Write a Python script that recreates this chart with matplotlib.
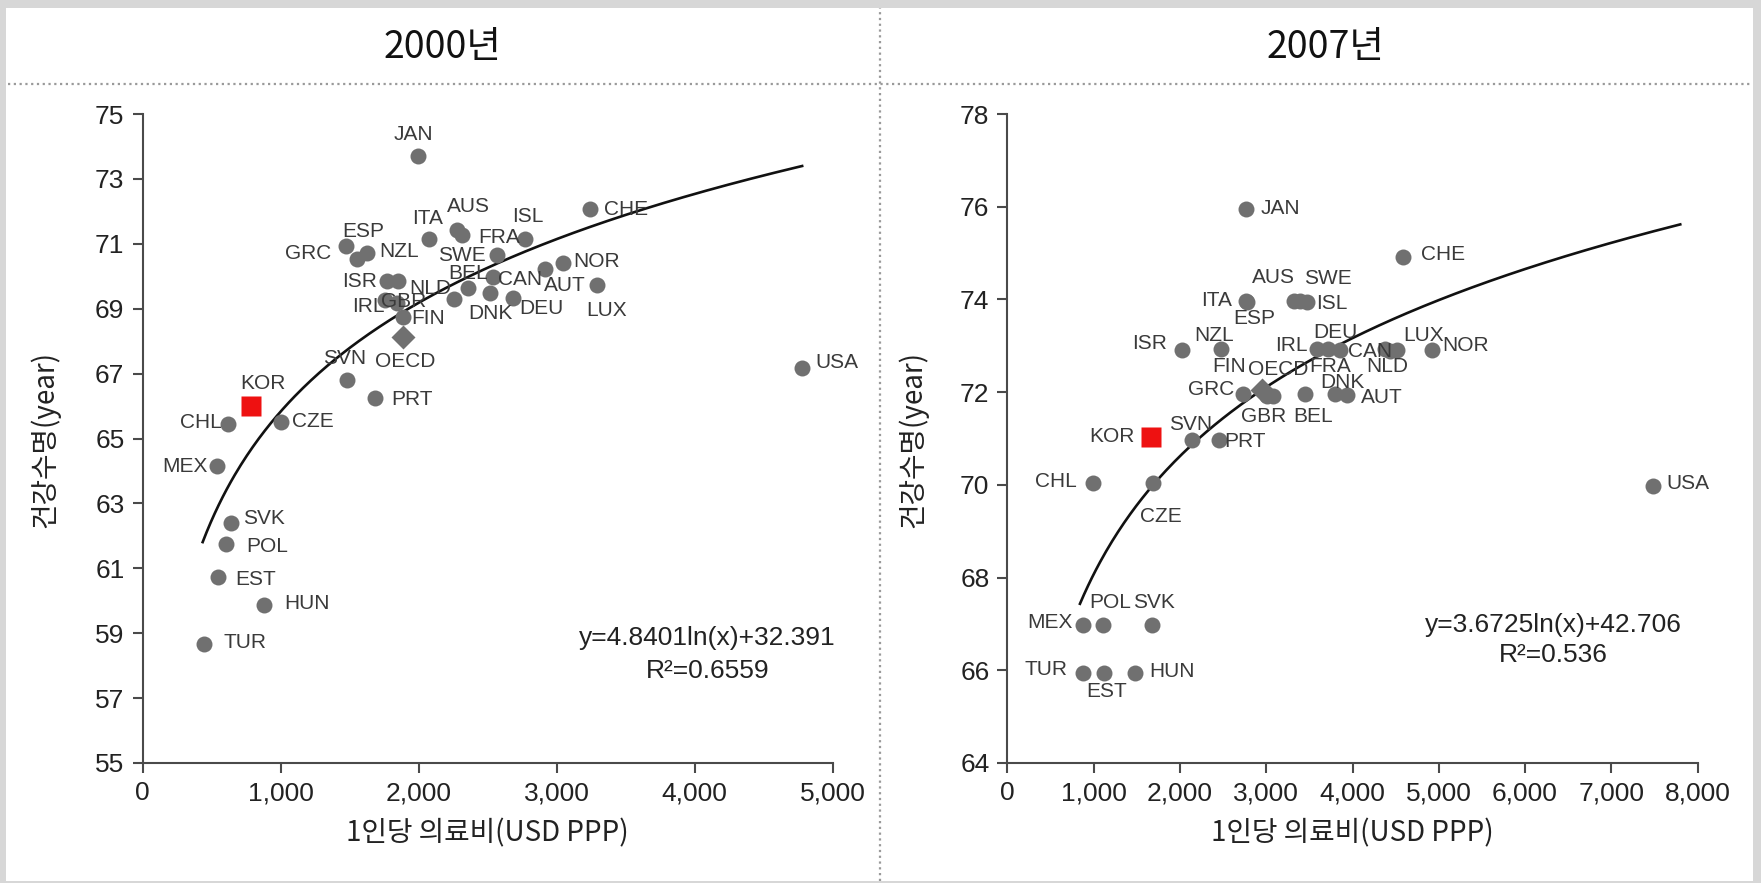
import numpy as np
import matplotlib.pyplot as plt
from matplotlib.patches import Rectangle
from matplotlib.lines import Line2D
from matplotlib.ticker import FuncFormatter

plt.rcParams['font.family'] = ['Liberation Sans', 'DejaVu Sans']
KR = ['Noto Sans CJK KR', 'DejaVu Sans']

# 2000: health spending per capita (USD PPP) vs healthy life expectancy
countries_2000 = ['JAN', 'CHE', 'ISL', 'AUS', 'SWE', 'ITA', 'GRC', 'ESP', 'NZL', 'FRA',
                  'BEL', 'CAN', 'NOR', 'AUT', 'LUX', 'NLD', 'DNK', 'DEU', 'ISR', '',
                  'IRL', 'GBR', 'FIN', 'OECD', 'SVN', 'PRT', 'KOR', 'CHL', 'CZE', 'MEX',
                  'SVK', 'POL', 'EST', 'HUN', 'TUR', 'USA']
spend_2000 = [1999, 3243, 2772, 2277, 2313, 2078, 1475, 1629, 1552, 2567,
              2361, 2538, 3049, 2917, 3291, 2257, 2518, 2687, 1770, 1854,
              1757, 1842, 1890, 1890, 1480, 1685, 784, 622, 1002, 538,
              639, 605, 549, 880, 448, 4779]
hale_2000 = [73.71, 72.06, 71.14, 71.43, 71.27, 71.14, 70.93, 70.73, 70.52, 70.65,
             69.63, 69.99, 70.42, 70.21, 69.73, 69.29, 69.47, 69.34, 69.85, 69.85,
             69.27, 69.17, 68.75, 68.14, 66.80, 66.24, 66.00, 65.45, 65.52, 64.15,
             62.39, 61.74, 60.74, 59.87, 58.67, 67.16]

# 2007
countries_2007 = ['JAN', 'CHE', 'ITA', 'ESP', 'AUS', 'SWE', 'ISL', 'ISR', 'NZL', 'IRL',
                  'DEU', 'FRA', 'CAN', 'NLD', 'LUX', 'NOR', 'GRC', 'OECD', 'FIN', 'GBR',
                  'BEL', 'DNK', 'AUT', 'SVN', 'PRT', 'KOR', 'CHL', 'CZE', 'MEX', 'POL',
                  'SVK', 'TUR', 'EST', 'HUN', 'USA']
spend_2007 = [2765, 4589, 2765, 2780, 3316, 3397, 3467, 2020, 2472, 3585,
              3719, 3855, 4377, 4435, 4512, 4918, 2734, 2947, 3005, 3082,
              3449, 3797, 3933, 2136, 2456, 1660, 995, 1691, 879, 1104,
              1672, 879, 1119, 1478, 7486]
hale_2007 = [75.94, 74.92, 73.97, 73.95, 73.97, 73.96, 73.94, 72.91, 72.93, 72.93,
             72.93, 72.91, 72.92, 72.88, 72.91, 72.91, 71.96, 72.05, 71.92, 71.92,
             71.96, 71.96, 71.94, 70.97, 70.97, 71.04, 70.03, 70.03, 66.98, 66.98,
             66.98, 65.95, 65.95, 65.95, 69.97]

# logarithmic trend lines: slope, intercept, R^2
fit_2000 = (4.8401, 32.391, 0.6559)
fit_2007 = (3.6725, 42.706, 0.536)

# label placement, pixel offsets from the marker
offsets_2000 = {
    'JAN': (-5, 21), 'CHE': (36, 0), 'ISL': (3, 23), 'AUS': (12, 23), 'SWE': (0, -20),
    'ITA': (-2, 21), 'GRC': (-38, -7), 'ESP': (-4, 21), 'NZL': (42, 8), 'FRA': (2, 18),
    'BEL': (0, 15), 'CAN': (27, -3), 'NOR': (33, 1), 'AUT': (20, -16), 'LUX': (10, -25),
    'NLD': (-24, 11), 'DNK': (0, -20), 'DEU': (28, -11), 'ISR': (-27, 0), 'IRL': (-17, -7),
    'GBR': (7, 2), 'FIN': (25, -2), 'OECD': (2, -25), 'SVN': (-2, 22), 'PRT': (37, -1),
    'KOR': (12, 23), 'CHL': (-27, 1), 'CZE': (32, 0), 'MEX': (-32, 0), 'SVK': (33, 5),
    'POL': (41, -2), 'EST': (37, -3), 'HUN': (43, 1), 'TUR': (41, 1), 'USA': (35, 6),
}
offsets_2007 = {
    'JAN': (34, 1), 'CHE': (40, 2), 'ITA': (-29, 0), 'ESP': (7, -17), 'AUS': (-20, 23),
    'SWE': (27, 23), 'ISL': (25, -1), 'ISR': (-32, 6), 'NZL': (-7, 14), 'IRL': (-25, 4),
    'DEU': (7, 17), 'FRA': (-10, -17), 'CAN': (-15, -2), 'NLD': (-3, -15), 'LUX': (27, 14),
    'NOR': (34, 4), 'GRC': (-32, 4), 'OECD': (17, 20), 'FIN': (-38, 29), 'GBR': (-10, -21),
    'BEL': (8, -23), 'DNK': (7, 11), 'AUT': (35, -3), 'SVN': (-1, 15), 'PRT': (26, -2),
    'KOR': (-39, 0), 'CHL': (-37, 2), 'CZE': (8, -33), 'MEX': (-33, 2), 'POL': (7, 22),
    'SVK': (2, 22), 'TUR': (-37, 3), 'EST': (3, -19), 'HUN': (37, 1), 'USA': (35, 3),
}

W, H = 1761, 883
fig = plt.figure(figsize=(W / 100, H / 100), dpi=100, facecolor='#d7d7d7')
fig.patches.append(Rectangle((6 / W, 2 / H), (1753 - 6) / W, (875 - 2) / H,
                             transform=fig.transFigure, facecolor='white',
                             edgecolor='none', zorder=-5))
dot = dict(color='#9a9a9a', lw=1.6, linestyle=(0, (1, 1.6)), transform=fig.transFigure, zorder=-4)
fig.lines.append(Line2D([8 / W, 1752 / W], [1 - 84 / H, 1 - 84 / H], **dot))
fig.lines.append(Line2D([879.5 / W, 879.5 / W], [2 / H, 875 / H], **dot))

fig.text(442 / W, 1 - 48 / H, '2000년', fontsize=27, family=KR, ha='center', va='center', color='#111')
fig.text(1325 / W, 1 - 48 / H, '2007년', fontsize=27, family=KR, ha='center', va='center', color='#111')

grey = '#707070'


def draw_panel(ax, names, xs, ys, offsets, fit, xmax, ylim, yticks, xticks, curve_x, eq_pos):
    for name, x, y in zip(names, xs, ys):
        if name == 'KOR':
            ax.plot(x, y, 's', ms=15, mfc='#ee1111', mec='none', zorder=4, clip_on=False)
        elif name == 'OECD':
            ax.plot(x, y, 'D', ms=12, mfc=grey, mec='none', zorder=3, clip_on=False)
        else:
            ax.plot(x, y, 'o', ms=11.5, mfc=grey, mec='none', zorder=3, clip_on=False)
        if name:
            dx, dy = offsets[name]
            ax.annotate(name, (x, y), xytext=(dx, dy), textcoords='offset pixels',
                        ha='center', va='center', fontsize=15, color='#3a3a3a', zorder=5)

    a, b, r2 = fit
    cx = np.linspace(curve_x[0], curve_x[1], 300)
    ax.plot(cx, a * np.log(cx) + b, color='#111', lw=1.9, zorder=2)
    ax.text(eq_pos[0], eq_pos[1], f'y={a}ln(x)+{b}', transform=ax.transAxes,
            ha='center', va='center', fontsize=19, color='#222')
    ax.text(eq_pos[0], eq_pos[2], f'R²={r2}', transform=ax.transAxes,
            ha='center', va='center', fontsize=19, color='#222')

    ax.set_xlim(0, xmax)
    ax.set_ylim(*ylim)
    ax.set_xticks(xticks)
    ax.set_yticks(yticks)
    ax.xaxis.set_major_formatter(FuncFormatter(lambda v, p: f'{int(v):,}'))
    for side in ('top', 'right'):
        ax.spines[side].set_visible(False)
    for side in ('left', 'bottom'):
        ax.spines[side].set_color('#4a4a4a')
        ax.spines[side].set_linewidth(1.5)
    ax.tick_params(direction='out', length=7, width=1.5, color='#4a4a4a',
                   labelsize=19, labelcolor='#222', pad=6)
    ax.set_xlabel('1인당 의료비(USD PPP)', family=KR, fontsize=20, color='#222')
    ax.set_ylabel('건강수명(year)', family=KR, fontsize=20, color='#222')
    ax.xaxis.label.set_va('center')
    ax.yaxis.label.set_va('center')
    ax.xaxis.set_label_coords(0.5, -0.108)
    ax.set_facecolor('none')


ax1 = fig.add_axes([142.5 / W, 120 / H, 690 / W, 649 / H])
draw_panel(ax1, countries_2000, spend_2000, hale_2000, offsets_2000, fit_2000,
           5000, (55, 75), range(55, 76, 2), range(0, 5001, 1000),
           (436, 4780), (0.819, 0.193, 0.1425))
ax1.yaxis.set_label_coords(-0.141, 0.498)

ax2 = fig.add_axes([1007.5 / W, 120 / H, 690 / W, 649 / H])
draw_panel(ax2, countries_2007, spend_2007, hale_2007, offsets_2007, fit_2007,
           8000, (64, 78), range(64, 79, 2), range(0, 8001, 1000),
           (840, 7800), (0.791, 0.2126, 0.166))
ax2.yaxis.set_label_coords(-0.137, 0.498)

fig.savefig('out.png', dpi=100, facecolor=fig.get_facecolor())
